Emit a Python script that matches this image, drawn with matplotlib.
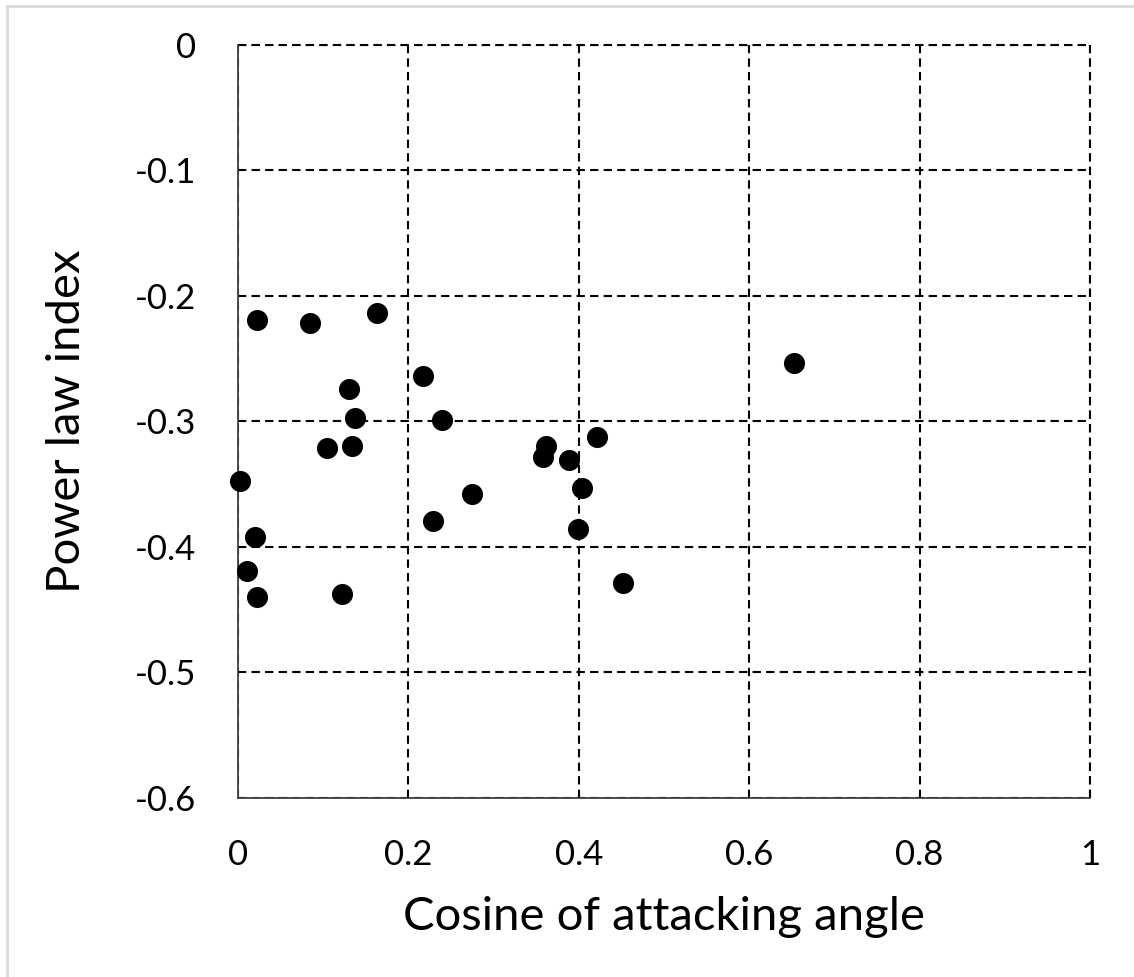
import matplotlib
matplotlib.use("Agg")
import matplotlib.pyplot as plt
from matplotlib.lines import Line2D

# cosine of attacking angle vs fitted power-law index
cos_angle = [0.022, 0.084, 0.163, 0.130, 0.137, 0.105, 0.134, 0.002,
             0.0205, 0.0106, 0.022, 0.1226, 0.2167, 0.240, 0.3617, 0.3574,
             0.389, 0.4216, 0.404, 0.275, 0.2286, 0.3988, 0.4524, 0.6525]
power_index = [-0.2194, -0.222, -0.2133, -0.274, -0.2975, -0.321, -0.320, -0.3474,
               -0.392, -0.419, -0.440, -0.4375, -0.264, -0.2988, -0.3195, -0.3288,
               -0.3307, -0.3121, -0.3532, -0.358, -0.3798, -0.3857, -0.4287, -0.2534]

x_ticks = [0, 0.2, 0.4, 0.6, 0.8, 1]
x_labels = ["0", "0.2", "0.4", "0.6", "0.8", "1"]
y_ticks = [0, -0.1, -0.2, -0.3, -0.4, -0.5, -0.6]
y_labels = ["0", "-0.1", "-0.2", "-0.3", "-0.4", "-0.5", "-0.6"]

plt.rcParams['font.family'] = ['Lato', 'DejaVu Sans']

fig = plt.figure(figsize=(11.34, 9.77), dpi=100)
ax = fig.add_axes([238 / 1134, 1 - 797.7 / 977, (1090 - 238) / 1134, (797.7 - 45) / 977])

ax.scatter(cos_angle, power_index, s=200, color="black", zorder=3, clip_on=False)

ax.set_xlim(0, 1)
ax.set_ylim(-0.6, 0)
ax.set_xticks(x_ticks)
ax.set_xticklabels(x_labels)
ax.set_yticks(y_ticks)
ax.set_yticklabels(y_labels)
ax.tick_params(length=0, labelsize=25, pad=30)

dash = (0, (4, 2.5))
ax.grid(True, color="black", linestyle=dash, linewidth=1.5)
ax.axhline(0.0, color="black", linestyle=dash, linewidth=1.5, clip_on=False)
ax.axvline(1.0, color="black", linestyle=dash, linewidth=1.5, clip_on=False)

ax.spines["top"].set_visible(False)
ax.spines["right"].set_visible(False)
for side in ("left", "bottom"):
    ax.spines[side].set_color("#404040")
    ax.spines[side].set_linewidth(1.3)

ax.set_xlabel("Cosine of attacking angle", fontsize=34, labelpad=18)
ax.set_ylabel("Power law index", fontsize=34, labelpad=34)

# thin grey frame along the top and left edges
fig.add_artist(Line2D([7 / 1134, 7 / 1134], [0, 1 - 6 / 977], transform=fig.transFigure,
                      color="#d9d9d9", linewidth=2))
fig.add_artist(Line2D([7 / 1134, 1], [1 - 6 / 977, 1 - 6 / 977], transform=fig.transFigure,
                      color="#d9d9d9", linewidth=2))

fig.savefig("out.png", dpi=100, facecolor="white")
